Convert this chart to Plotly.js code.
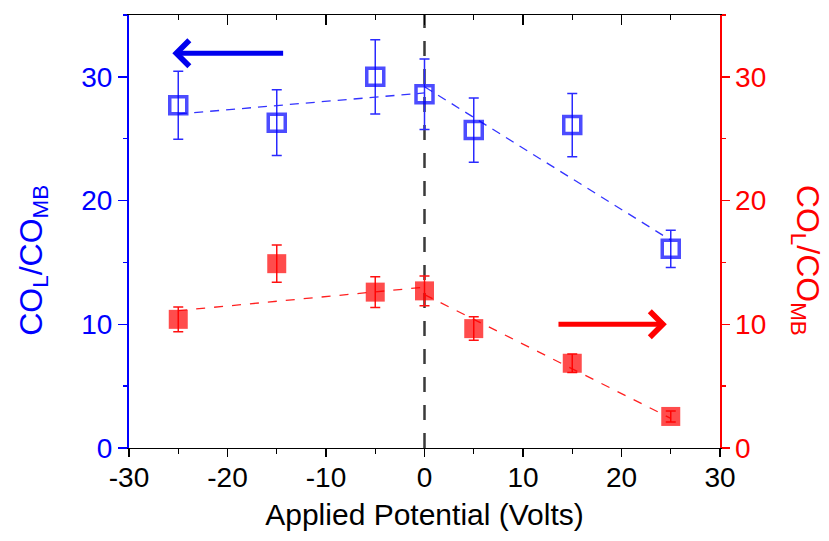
<!DOCTYPE html>
<html>
<head>
<meta charset="utf-8">
<script src="https://cdn.plot.ly/plotly-3.0.1.min.js"></script>
<style>html,body{margin:0;padding:0;background:#fff;}#chart{width:829px;height:541px;}</style>
</head>
<body>
<div id="chart"></div>
<script>
// ---- data ----
const potential = [-25, -15, -5, 0, 5, 15, 25];
const ratioLeft = [27.7, 26.3, 30.0, 28.6, 25.7, 26.1, 16.1];
const errLeft = [2.75, 2.65, 3.0, 2.85, 2.6, 2.55, 1.5];
const ratioRight = [10.4, 14.9, 12.6, 12.7, 9.65, 6.85, 2.55];
const errRight = [1.0, 1.5, 1.25, 1.2, 0.95, 0.75, 0.45];

const fitLeftNegX = [-25, 0], fitLeftNegY = [27.0, 28.7];
const fitLeftPosX = [0, 25], fitLeftPosY = [29.2, 16.8];
const fitRightNegX = [-25, 0], fitRightNegY = [11.1, 13.0];
const fitRightPosX = [0, 25], fitRightPosY = [12.4, 2.4];

const zeroLineX = [0, 0], zeroLineY = [0, 35];

// arrows: [tailX, headX, y]
const arrowLeft = [-14.2, -25.6, 31.9];
const arrowRight = [13.45, 24.6, 10.0];

const xTicks = [-30, -20, -10, 0, 10, 20, 30];
const yTicks = [0, 10, 20, 30];
const xTitle = 'Applied Potential (Volts)';
const yTitle = 'CO<sub>L</sub>/CO<sub>MB</sub>';

const FONT = 'Liberation Sans, Arial, sans-serif';
const BLUE = '#0000ff';
const RED = '#ff0000';

const traces = [
  {x: zeroLineX, y: zeroLineY, mode: 'lines', yaxis: 'y', xaxis: 'x',
   line: {color: '#3a3a3a', width: 2.5, dash: '15px,13px'}, hoverinfo: 'skip', showlegend: false},
  {x: fitLeftNegX, y: fitLeftNegY, mode: 'lines', yaxis: 'y',
   line: {color: '#3333ff', width: 1.3, dash: '9px,7px'}, showlegend: false},
  {x: fitLeftPosX, y: fitLeftPosY, mode: 'lines', yaxis: 'y',
   line: {color: '#3333ff', width: 1.3, dash: '9px,7px'}, showlegend: false},
  {x: fitRightNegX, y: fitRightNegY, mode: 'lines', yaxis: 'y2',
   line: {color: '#ff2020', width: 1.3, dash: '9px,9px'}, showlegend: false},
  {x: fitRightPosX, y: fitRightPosY, mode: 'lines', yaxis: 'y2',
   line: {color: '#ff2020', width: 1.3, dash: '9px,9px'}, showlegend: false},
  {x: potential, y: ratioLeft, mode: 'markers', yaxis: 'y',
   marker: {symbol: 'square-open', size: 17, color: 'rgba(0,0,255,0.7)', line: {width: 3.5, color: 'rgba(0,0,255,0.7)'}},
   error_y: {type: 'data', array: errLeft, visible: true, color: '#2a2aff', thickness: 1.5, width: 5},
   showlegend: false},
  {x: potential, y: ratioRight, mode: 'markers', yaxis: 'y2',
   marker: {symbol: 'square', size: 19, color: 'rgba(255,0,0,0.7)', line: {width: 0}},
   error_y: {type: 'data', array: errRight, visible: true, color: '#ff1010', thickness: 1.5, width: 5},
   showlegend: false},
  {x: [null], y: [null], xaxis: 'x2', yaxis: 'y', mode: 'markers', showlegend: false, hoverinfo: 'skip'}
];

const tickFont = (c) => ({family: FONT, size: 28, color: c});

const layout = {
  width: 829, height: 541,
  margin: {l: 129, r: 109, t: 15, b: 93, pad: 0},
  paper_bgcolor: '#fff', plot_bgcolor: '#fff',
  showlegend: false,
  font: {family: FONT},
  xaxis: {
    range: [-30, 30], tickvals: xTicks, ticktext: xTicks.map(String),
    ticks: 'outside', ticklen: 8, tickwidth: 1.2, tickcolor: '#000',
    showline: true, linecolor: '#000', linewidth: 1.2,
    showgrid: false, zeroline: false,
    minor: {dtick: 5, tick0: 0, ticks: 'outside', ticklen: 5, tickwidth: 1.2, tickcolor: '#000', showgrid: false},
    tickfont: tickFont('#000'), ticklabelstandoff: -4,
    title: {text: xTitle, font: {family: FONT, size: 30, color: '#000'}, standoff: 12}
  },
  xaxis2: {
    overlaying: 'x', side: 'top', anchor: 'y', range: [-30, 30], tickvals: xTicks,
    ticks: 'inside', ticklen: 10, tickwidth: 1.2, tickcolor: '#000',
    showline: true, linecolor: '#000', linewidth: 1.2,
    showgrid: false, zeroline: false, showticklabels: false,
    minor: {dtick: 5, tick0: 0, ticks: 'inside', ticklen: 5, tickwidth: 1.2, tickcolor: '#000', showgrid: false}
  },
  yaxis: {
    range: [0, 35], tickvals: yTicks, ticktext: yTicks.map(String),
    ticks: 'outside', ticklen: 9, tickwidth: 1.5, tickcolor: BLUE,
    showline: true, linecolor: BLUE, linewidth: 2,
    showgrid: false, zeroline: false,
    minor: {dtick: 5, tick0: 0, ticks: 'outside', ticklen: 4, tickwidth: 1.5, tickcolor: BLUE, showgrid: false},
    tickfont: tickFont(BLUE)
  },
  yaxis2: {
    overlaying: 'y', side: 'right', anchor: 'x', range: [0, 35], tickvals: yTicks, ticktext: yTicks.map(String),
    ticks: 'outside', ticklen: 8, tickwidth: 1.5, tickcolor: RED,
    showline: true, linecolor: RED, linewidth: 1.5,
    showgrid: false, zeroline: false,
    minor: {dtick: 5, tick0: 0, ticks: 'outside', ticklen: 4, tickwidth: 1.5, tickcolor: RED, showgrid: false},
    tickfont: tickFont(RED)
  },
  annotations: [
    {xref: 'paper', yref: 'paper', x: -0.163, y: 0.434, text: yTitle, showarrow: false,
     textangle: -90, xanchor: 'center', yanchor: 'middle',
     font: {family: FONT, size: 32, color: BLUE}},
    {xref: 'paper', yref: 'paper', x: 1.146, y: 0.434, text: yTitle, showarrow: false,
     textangle: 90, xanchor: 'center', yanchor: 'middle',
     font: {family: FONT, size: 32, color: RED}},
    {xref: 'x', yref: 'y', axref: 'x', ayref: 'y',
     x: arrowLeft[1], y: arrowLeft[2], ax: arrowLeft[0], ay: arrowLeft[2],
     text: '', showarrow: true, arrowhead: 4, arrowsize: 1.0, arrowwidth: 5, arrowcolor: '#0000ee', standoff: 0},
    {xref: 'x', yref: 'y2', axref: 'x', ayref: 'y2',
     x: arrowRight[1], y: arrowRight[2], ax: arrowRight[0], ay: arrowRight[2],
     text: '', showarrow: true, arrowhead: 4, arrowsize: 1.0, arrowwidth: 5, arrowcolor: RED, standoff: 0}
  ]
};

Plotly.newPlot('chart', traces, layout, {staticPlot: true, displayModeBar: false});
</script>
</body>
</html>
